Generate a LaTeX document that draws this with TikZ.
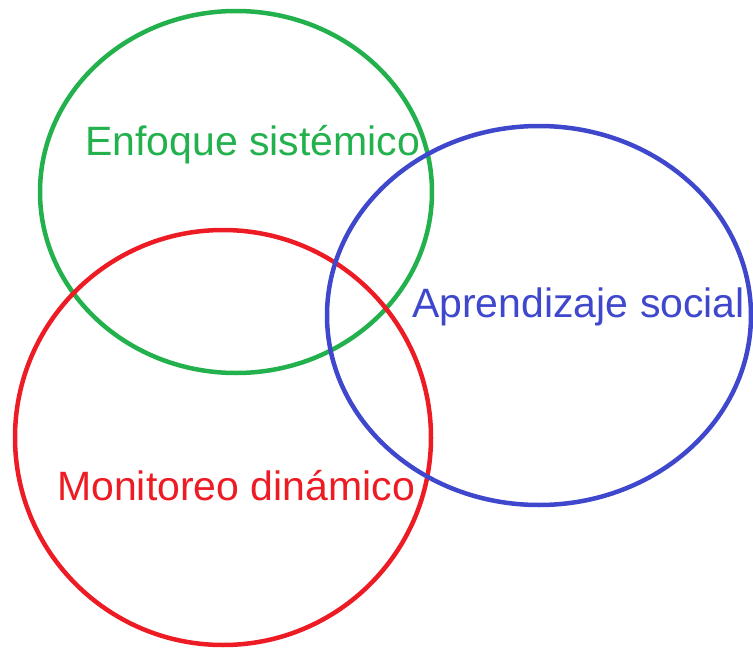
\documentclass[tikz,border=0pt]{standalone}
\usepackage{fontspec}
\setmainfont{Liberation Sans}
\definecolor{pgreen}{RGB}{34,177,76}
\definecolor{pred}{RGB}{237,28,36}
\definecolor{pblue}{RGB}{63,72,204}
\begin{document}
\begin{tikzpicture}[x=1pt, y=-1pt,
    ring/.style={line width=4.5pt},
    lbl/.style={anchor=base west, inner sep=0pt, font=\fontsize{41}{49}\selectfont}]
                \useasboundingbox (0, 0) rectangle (753, 653);
                \draw [pgreen, ring] (236, 192) ellipse [x radius=196, y radius=181];
                \draw [pred, ring] (223, 437.5) ellipse [x radius=208, y radius=207.5];
                \draw [pblue, ring] (539, 315.5) ellipse [x radius=212, y radius=189.5];
                \node [lbl, text=pgreen] (enfoque) at (85, 155) {Enfoque sistémico};
                \node [lbl, text=pblue] (aprendizaje) at (412, 317) {Aprendizaje social};
                \node [lbl, text=pred] (monitoreo) at (57, 500) {Monitoreo dinámico};
            \end{tikzpicture}
\end{document}
